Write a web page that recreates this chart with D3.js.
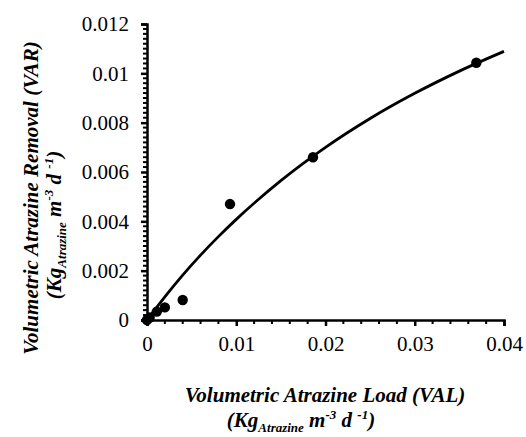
<!DOCTYPE html>
<html>
<head>
<meta charset="utf-8">
<script src="https://d3js.org/d3.v7.min.js"></script>
<style>
  body { margin: 0; background: #fff; }
  svg { display: block; }
  text { font-family: "Liberation Serif", "Times New Roman", Tinos, Times, "DejaVu Serif", serif; fill: #000; }
</style>
</head>
<body>
<div id="chart"></div>
<script>
// Observed data points (VAL, VAR)
const loadVAL = [0, 0.0003, 0.0011, 0.0020, 0.0040, 0.0093, 0.0186, 0.0369];
const removalVAR = [0, 0.0001, 0.00034, 0.00051, 0.00081, 0.0047, 0.0066, 0.01043];

// Fitted trend line
const curveX = [0, 0.002, 0.004, 0.006, 0.008, 0.01, 0.015, 0.02, 0.025, 0.03, 0.035, 0.04];
const curveY = [0, 0.00094, 0.00182, 0.00263, 0.00338, 0.00408, 0.00565, 0.0070, 0.00817, 0.00919, 0.01009, 0.01089];

// Tick labels
const xTicks = [0, 0.01, 0.02, 0.03, 0.04];
const xTickLabels = ["0", "0.01", "0.02", "0.03", "0.04"];
const yTicks = [0, 0.002, 0.004, 0.006, 0.008, 0.01, 0.012];
const yTickLabels = ["0", "0.002", "0.004", "0.006", "0.008", "0.01", "0.012"];

const W = 526, H = 437;
const m = { left: 147, top: 24, right: 22, bottom: 117 };
const serif = '"Liberation Serif", "Times New Roman", Tinos, Times, "DejaVu Serif", serif';

const svg = d3.select("#chart").append("svg").attr("width", W).attr("height", H);

const x = d3.scaleLinear().domain([0, 0.04]).range([m.left, W - m.right]);
const y = d3.scaleLinear().domain([0, 0.012]).range([H - m.bottom, m.top]);

// Minor ticks
const xMinor = d3.range(0, 0.04 + 1e-9, 0.002).filter(v => Math.abs(v / 0.01 - Math.round(v / 0.01)) > 1e-6);
const yMinor = d3.range(0, 0.012 + 1e-9, 0.0002).filter(v => Math.abs(v / 0.002 - Math.round(v / 0.002)) > 1e-6);

const gx = svg.append("g").attr("transform", `translate(0,${y(0)})`);
gx.selectAll("line.minor").data(xMinor).join("line")
  .attr("x1", d => x(d)).attr("x2", d => x(d)).attr("y1", 0).attr("y2", 4)
  .attr("stroke", "#000").attr("stroke-width", 2);
gx.call(d3.axisBottom(x).tickValues(xTicks).tickFormat((d, i) => xTickLabels[i]).tickSize(6).tickSizeOuter(6).tickPadding(10))
  .attr("font-family", serif)
  .call(g => g.select(".domain").attr("stroke-width", 2.5))
  .call(g => g.selectAll(".tick line").attr("stroke-width", 2.5))
  .call(g => g.selectAll(".tick text").attr("font-size", 21));

const gy = svg.append("g").attr("transform", `translate(${x(0)},0)`);
gy.selectAll("line.minor").data(yMinor).join("line")
  .attr("x1", 0).attr("x2", -4).attr("y1", d => y(d)).attr("y2", d => y(d))
  .attr("stroke", "#000").attr("stroke-width", 2);
gy.call(d3.axisLeft(y).tickValues(yTicks).tickFormat((d, i) => yTickLabels[i]).tickSize(6).tickSizeOuter(6).tickPadding(12))
  .attr("font-family", serif)
  .call(g => g.select(".domain").attr("stroke-width", 2.5))
  .call(g => g.selectAll(".tick line").attr("stroke-width", 2.5))
  .call(g => g.selectAll(".tick text").attr("font-size", 21));

// Trend line
const curvePts = curveX.map((v, i) => [v, curveY[i]]);
svg.append("path").datum(curvePts)
  .attr("d", d3.line().x(d => x(d[0])).y(d => y(d[1])).curve(d3.curveMonotoneX))
  .attr("fill", "none").attr("stroke", "#000").attr("stroke-width", 2.8);

// Points
svg.selectAll("circle.pt").data(loadVAL.map((v, i) => [v, removalVAR[i]])).join("circle")
  .attr("cx", d => x(d[0])).attr("cy", d => y(d[1])).attr("r", 5.2).attr("fill", "#000");

// Axis titles
function unitLine(t) {
  t.append("tspan").text("(Kg");
  t.append("tspan").text("Atrazine").attr("font-size", 13).attr("dy", 5);
  t.append("tspan").text(" m").attr("dy", -5);
  t.append("tspan").text("-3").attr("font-size", 13).attr("dy", -8);
  t.append("tspan").text(" d ").attr("dy", 8);
  t.append("tspan").text("-1").attr("font-size", 13).attr("dy", -8);
  t.append("tspan").text(")").attr("dy", 8);
}

svg.append("text").attr("x", 325).attr("y", 402).attr("text-anchor", "middle")
  .attr("font-size", 21).attr("font-weight", "bold").attr("font-style", "italic")
  .text("Volumetric Atrazine Load (VAL)");
const xt2 = svg.append("text").attr("x", 301).attr("y", 427).attr("text-anchor", "middle")
  .attr("font-size", 21).attr("font-weight", "bold").attr("font-style", "italic");
unitLine(xt2);

svg.append("text").attr("transform", "translate(38,198) rotate(-90)").attr("text-anchor", "middle")
  .attr("font-size", 21).attr("font-weight", "bold").attr("font-style", "italic")
  .text("Volumetric Atrazine Removal (VAR)");
const yt2 = svg.append("text").attr("transform", "translate(61,225) rotate(-90)").attr("text-anchor", "middle")
  .attr("font-size", 21).attr("font-weight", "bold").attr("font-style", "italic");
unitLine(yt2);
</script>
</body>
</html>
